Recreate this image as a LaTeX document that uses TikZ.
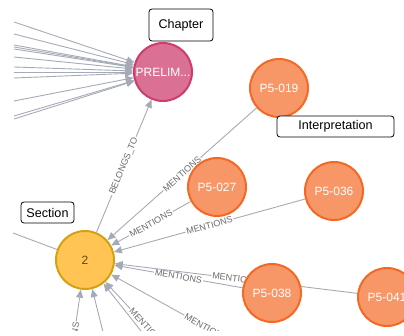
\documentclass[tikz,border=0pt]{standalone}
\usepackage{fontspec}
\setmainfont{Liberation Sans}
\usetikzlibrary{arrows.meta}
\pgfdeclarelayer{background}
\pgfsetlayers{background,main}

\definecolor{chapfill}{HTML}{DA7194}
\definecolor{chapline}{HTML}{CC3C6C}
\definecolor{parfill}{HTML}{F79767}
\definecolor{parline}{HTML}{F36924}
\definecolor{secfill}{HTML}{FFC454}
\definecolor{secline}{HTML}{D7A013}
\definecolor{sectext}{HTML}{604A0E}
\definecolor{relcol}{HTML}{A5ABB6}
\definecolor{labelgray}{HTML}{6B6B6B}

\begin{document}
\begin{tikzpicture}[x=1pt, y=-1pt,
    % Style for the graph nodes
    gnode/.style={
        circle,
        draw,
        line width=2pt,
        minimum size=58pt,
        inner sep=0pt,
        font=\fontsize{12}{14}\selectfont
    },
    chapnode/.style={gnode, fill=chapfill, draw=chapline, text=white},
    parnode/.style={gnode, fill=parfill, draw=parline, text=white},
    secnode/.style={gnode, fill=secfill, draw=secline, text=sectext},
    % Style for the connectors
    rel/.style={draw=relcol, line width=0.9pt, -{Triangle[length=8pt,width=7pt]}},
    relplain/.style={draw=relcol, line width=0.9pt},
    rellabel/.style={
        midway,
        sloped,
        fill=white,
        inner sep=1pt,
        text=labelgray,
        font=\fontsize{9}{10}\selectfont
    },
    % Style for the tag boxes
    tagbox/.style={
        rectangle,
        draw=black,
        fill=white,
        rounded corners=3pt,
        line width=0.8pt,
        inner sep=0pt,
        font=\fontsize{12.6}{15}\selectfont
    }
]
    \useasboundingbox (0,0) rectangle (404,336);

    % --- Nodes ---
    \node[chapnode] (prelim) at (163,72) {PRELIM...};
    \node[secnode] (sec2) at (85,260) {2};
    \node[parnode] (p019) at (279,88) {P5-019};
    \node[parnode] (p027) at (217,187) {P5-027};
    \node[parnode] (p036) at (334,191) {P5-036};
    \node[parnode] (p038) at (272,293) {P5-038};
    \node[parnode] (p041) at (387,297) {P5-041};

    % --- Sources outside the view ---
    \coordinate (lout) at (13,233);
    \coordinate (bsrc1) at (62,420);
    \coordinate (bsrc2) at (125,420);
    \coordinate (bsrc3) at (178,378);
    \coordinate (bsrc4) at (189,372);
    \coordinate (bsrc5) at (301,380);

    % --- Connectors ---
    \begin{pgfonlayer}{background}
    \begin{scope}
        \clip (13,0) rectangle (404,331);
        \foreach \yy [count=\i] in {22,34,45,47,49,57,67,72,78,101,116,119} {
            \coordinate (lsrc\i) at (14,\yy);
            \draw[rel] (lsrc\i) -- (prelim);
        }
        \draw[relplain] (sec2) -- (lout);
        \draw[rel] (sec2) -- node[rellabel] {BELONGS\_TO} (prelim);
        \draw[rel] (p019) -- node[rellabel] {MENTIONS} (sec2);
        \draw[rel] (p027) -- node[rellabel] {MENTIONS} (sec2);
        \draw[rel] (p036) -- node[rellabel] {MENTIONS} (sec2);
        \draw[rel] (p038) -- node[rellabel] {MENTIONS} (sec2);
        \draw[rel] (p041) -- node[rellabel] {MENTIONS} (sec2);
        \draw[rel] (bsrc1) -- node[rellabel, pos=0.57] {MENTIONS} (sec2);
        \draw[rel] (bsrc2) -- (sec2);
        \draw[rel] (bsrc3) -- (sec2);
        \draw[rel] (bsrc4) -- node[rellabel] {MENTIONS} (sec2);
        \draw[rel] (bsrc5) -- node[rellabel] {MENTIONS} (sec2);
    \end{scope}
    \end{pgfonlayer}

    % --- Tag boxes ---
    \node[tagbox, minimum width=64pt, minimum height=32pt] (chaptag) at (181,25) {Chapter};
    \node[tagbox, minimum width=117pt, minimum height=21pt] (interptag) at (335.5,126.5) {Interpretation};
    \node[tagbox, minimum width=53pt, minimum height=21pt] (sectag) at (47.5,212.5) {Section};

\end{tikzpicture}
\end{document}
